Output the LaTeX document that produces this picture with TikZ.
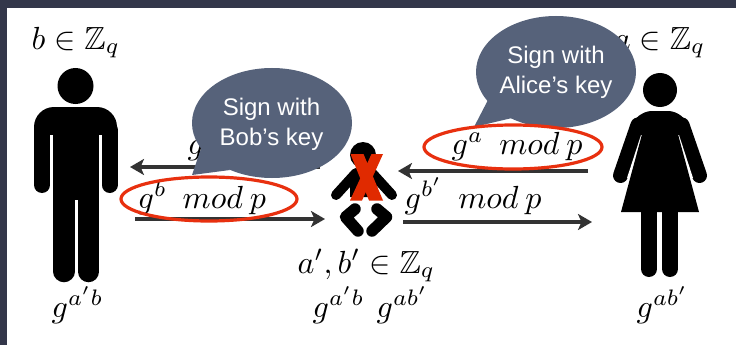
\documentclass[tikz,border=0pt]{standalone}
\usepackage{amssymb}
\usepackage{fontspec}
\setsansfont{Liberation Sans}
\usetikzlibrary{arrows.meta}
\definecolor{frameC}{HTML}{33374A}
\definecolor{bubbleC}{HTML}{56627A}
\definecolor{ringC}{HTML}{E8300F}
\definecolor{arrowC}{HTML}{333333}
\definecolor{crossC}{HTML}{E02A00}
\tikzset{
  x=1pt,y=-1pt,
  mathlabel/.style={scale=3.2,inner sep=0pt,anchor=base west},
  mathlabelE/.style={scale=3.2,inner sep=0pt,anchor=base east},
  msgarrow/.style={draw=arrowC,line width=3.2pt,-{Stealth[length=14pt,width=16pt,inset=3.5pt]}},
  ring/.style={draw=ringC,line width=3.2pt},
  bubble/.style={fill=bubbleC},
  bubbletext/.style={text=white,font=\sffamily\fontsize{24}{30}\selectfont,align=center,inner sep=0pt},
  limb/.style={draw=black,line cap=round,line join=round},
}
\newcommand{\modp}{\ \kern1.6pt mod\,\kern0.5pt p}
\begin{document}
\begin{tikzpicture}
\useasboundingbox (0,0) rectangle (736,345);
\fill[frameC] (0,0) rectangle (736,345);
\fill[white] (7,8) rectangle (736,345);

% Bob
\fill (75.5,86) circle (18);
\fill (34,140) [rounded corners=20] -- (34,107) -- (117,107) [sharp corners] -- (117,140) -- cycle;
\draw[limb,line width=16pt] (42,130) -- (42,185);
\draw[limb,line width=16pt] (109.5,130) -- (109.5,185);
\fill[white] (50,135) rectangle (53,195);
\fill[white] (99,135) rectangle (102,195);
\fill (53,115) rectangle (99,200);
\draw[limb,line width=21.5pt] (64,190) -- (64,271.5);
\draw[limb,line width=21.5pt] (88.5,190) -- (88.5,271.5);

% Alice
\fill (660,90) circle (17);
\fill (628,137) [rounded corners=16] -- (636,111) -- (684,111) [sharp corners] -- (692,137) -- (660,140) -- cycle;
\draw[limb,line width=15pt] (638,125) -- (620.5,175.5);
\draw[limb,line width=15pt] (682,125) -- (699.5,175.5);
\fill[white] (641,135) -- (644,135) -- (633,178) -- (627,178) -- cycle;
\fill[white] (679,135) -- (676,135) -- (687,178) -- (693,178) -- cycle;
\fill (644.5,125) -- (675.5,125) -- (699,212) -- (621,212) -- cycle;
\draw[limb,line width=16pt] (649,205) -- (649,269);
\draw[limb,line width=16pt] (670,205) -- (670,269);

% Mallory (baby)
\fill (363,155) circle (13);
\fill (350,172) -- (376,172) -- (378,197) -- (350,197) -- cycle;
\draw[limb,line width=10pt] (356,173) -- (336,195);
\draw[limb,line width=10pt] (372,173) -- (392,195);
\draw[limb,line width=11.5pt] (355,209) -- (345.5,217) -- (358,231);
\draw[limb,line width=11.5pt] (377,209) -- (386.5,217) -- (372,231);
\fill[crossC] (350.5,154) -- (363.5,154) -- (383,200.5) -- (369,200.5) -- cycle;
\fill[crossC] (383,154) -- (371.5,154) -- (350,200.5) -- (362,200.5) -- cycle;

% Labels
\node[mathlabel] (bobkey) at (31,49) {$b\in\mathbb{Z}_q$};
\node[mathlabelE] (alicekey) at (706,49) {$a\in\mathbb{Z}_q$};
\node[mathlabel] (malkey) at (297,273) {$a',b'\in\mathbb{Z}_q$};
\node[mathlabel] (bobshared) at (51,317) {$g^{a'b}$};
\node[mathlabel] (malshareda) at (312,317) {$g^{a'b}$};
\node[mathlabel] (malsharedb) at (376,317) {$g^{ab'}$};
\node[mathlabel] (aliceshared) at (636,317) {$g^{ab'}$};
\node[mathlabel] (hiddeng) at (187,154) {$g$};
\node[mathlabel] (msgb) at (137,208) {$g^{b}\modp$};
\node[mathlabel] (msga) at (451,154) {$g^{a}\modp$};
\node[mathlabel] (msgbp) at (404,208) {$g^{b'}\modp$};

% Arrows
\coordinate (la1) at (320,167); \coordinate (la2) at (130,167);
\coordinate (lb1) at (135,219); \coordinate (lb2) at (325,219);
\coordinate (ra1) at (588,171); \coordinate (ra2) at (398,171);
\coordinate (rb1) at (403,222); \coordinate (rb2) at (592,222);
\draw[msgarrow] (la1) -- (la2);
\draw[msgarrow] (lb1) -- (lb2);
\draw[msgarrow] (ra1) -- (ra2);
\draw[msgarrow] (rb1) -- (rb2);

% Speech bubbles
\fill[bubble] (272,123) ellipse [x radius=80,y radius=55];
\fill[bubble] (203,143) -- (192,175) -- (230,170) -- cycle;
\node[bubbletext] (bobbubble) at (271.5,124) {Sign with\\Bob’s key};
\fill[bubble] (556,72) ellipse [x radius=80,y radius=56];
\fill[bubble] (488,100) -- (474,127) -- (512,118) -- cycle;
\node[bubbletext] (alicebubble) at (556,72) {Sign with\\Alice’s key};

% Rings
\draw[ring] (209,199) ellipse [x radius=88,y radius=22];
\draw[ring] (513,147) ellipse [x radius=89,y radius=22];
\end{tikzpicture}
\end{document}
